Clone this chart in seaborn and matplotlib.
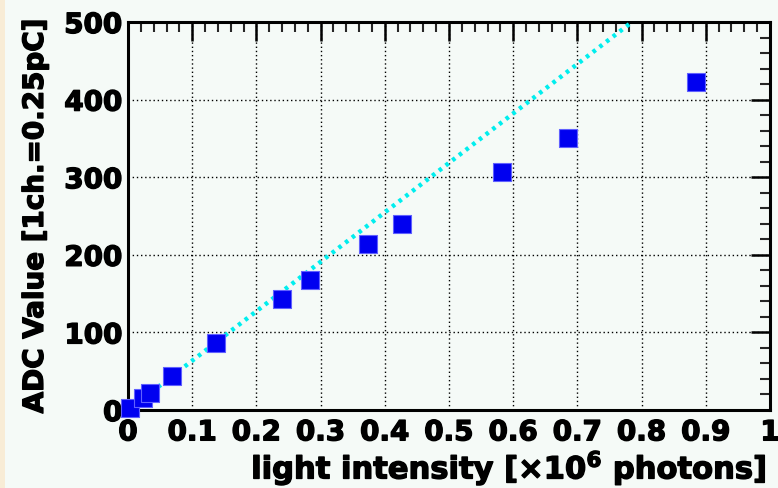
import matplotlib
matplotlib.use("Agg")
import matplotlib.pyplot as plt
import matplotlib.patheffects as pe
import seaborn as sns
import pandas as pd
import numpy as np
from matplotlib.ticker import MultipleLocator, FixedLocator
from matplotlib.patches import Rectangle

# Data (x in 10^6 photons, y in ADC channels)
intensity = [0.003, 0.023, 0.034, 0.069, 0.137, 0.240, 0.283, 0.374, 0.427, 0.583, 0.685, 0.885]
adc_value = [2, 15, 22, 44, 86, 143, 168, 214, 240, 307, 350, 423]
line_x = [0.005, 0.785]
line_y = [3, 500]
x_ticks = [0, 0.1, 0.2, 0.3, 0.4, 0.5, 0.6, 0.7, 0.8, 0.9, 1]
x_ticklabels = ["0", "0.1", "0.2", "0.3", "0.4", "0.5", "0.6", "0.7", "0.8", "0.9", "1"]
y_ticks = [0, 100, 200, 300, 400, 500]
y_ticklabels = ["0", "100", "200", "300", "400", "500"]

sns.set_theme(style="white")
plt.rcParams['font.family'] = ['DejaVu Sans']
plt.rcParams['font.weight'] = 'bold'
plt.rcParams['mathtext.default'] = 'bf'

bg = "#F5FAF7"
fig = plt.figure(figsize=(7.78, 4.88), dpi=100, facecolor=bg)
ax = fig.add_axes([128/778, (488-410)/488, (770-128)/778, (410-22)/488])
ax.set_facecolor(bg)
fig.patches.append(Rectangle((0, 0), 5/778, 1, transform=fig.transFigure,
                             facecolor="#F8ECD6", edgecolor="none", zorder=-1))

df = pd.DataFrame({"x": intensity, "y": adc_value})
ldf = pd.DataFrame({"x": line_x, "y": line_y})

ax.set_xlim(0, 1)
ax.set_ylim(0, 500)

ax.xaxis.set_major_locator(FixedLocator(x_ticks))
ax.yaxis.set_major_locator(FixedLocator(y_ticks))
ax.xaxis.set_minor_locator(MultipleLocator(0.02))
ax.yaxis.set_minor_locator(MultipleLocator(20))
ax.set_xticklabels(x_ticklabels)
ax.set_yticklabels(y_ticklabels)

ax.grid(True, which="major", color="black", linestyle=(0, (1, 2)), linewidth=1.0)

sns.lineplot(data=ldf, x="x", y="y", ax=ax, color="#00EEEE", linewidth=3.2,
             linestyle=(0, (0.8, 1.1)), zorder=3)
sns.scatterplot(data=df, x="x", y="y", ax=ax, marker="s", s=150, color="#0000F0",
                edgecolor="#6060FF", linewidth=0.8, zorder=4, clip_on=False)

for s in ax.spines.values():
    s.set_color("black")
    s.set_linewidth(2.2)

ax.tick_params(axis="both", which="major", direction="in", length=14, width=1.8,
               top=True, right=True, labelsize=20, colors="black")
ax.tick_params(axis="x", which="major", pad=6)
ax.tick_params(axis="y", which="major", pad=4)
ax.tick_params(axis="both", which="minor", direction="in", length=7, width=1.5,
               top=True, right=True)

stroke = [pe.withStroke(linewidth=1.0, foreground="black")]
for lab in ax.get_xticklabels() + ax.get_yticklabels():
    lab.set_fontweight("bold")
    lab.set_path_effects(stroke)

ax.set_xlabel("light intensity [$\\times$10$^{6}$ photons]", fontsize=22,
              fontweight="bold", color="black")
ax.xaxis.set_label_coords(0.993, -0.1)
ax.xaxis.label.set_horizontalalignment("right")
ax.xaxis.label.set_verticalalignment("top")
ax.xaxis.label.set_path_effects(stroke)
ax.set_ylabel("ADC Value [1ch.=0.25pC]", fontsize=20, fontweight="bold", color="black")
ax.yaxis.set_label_coords(-0.145, 1.01)
ax.yaxis.label.set_verticalalignment("center")
ax.yaxis.label.set_horizontalalignment("right")
ax.yaxis.label.set_path_effects(stroke)

fig.savefig("out.png", dpi=100, facecolor=bg)
